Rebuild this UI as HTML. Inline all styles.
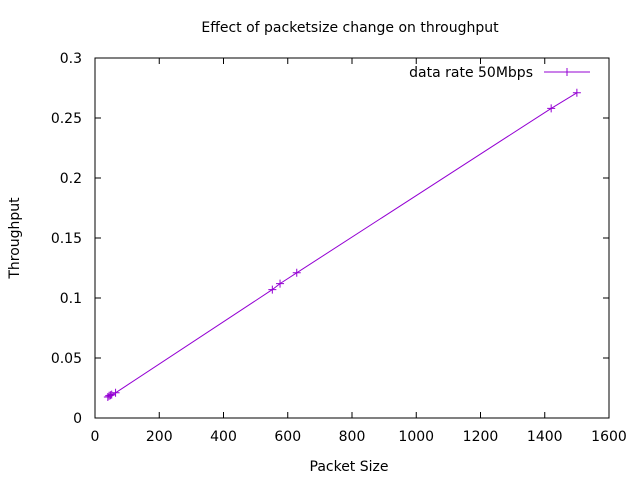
<!DOCTYPE html>
<html><head><meta charset="utf-8"><style>body{margin:0;background:#fff}svg{font-family:"DejaVu Sans","Liberation Sans",sans-serif}</style></head>
<body>
<svg id="c" width="640" height="480" xmlns="http://www.w3.org/2000/svg"></svg>
<script>
const xTicks=[0,200,400,600,800,1000,1200,1400,1600];
const yTicks=[0,0.05,0.1,0.15,0.2,0.25,0.3];
const yLabels=["0","0.05","0.1","0.15","0.2","0.25","0.3"];
const packetSizes=[40,44,48,52,64,552,576,628,1420,1500];
const throughput=[0.0175,0.0185,0.019,0.0195,0.021,0.107,0.112,0.121,0.258,0.271];
const L=95,R=609,T=58,B=418;
const sx=v=>L+(v-0)/1600*(R-L), sy=v=>B-v/0.3*(B-T);
const s=document.getElementById('c'),NS='http://www.w3.org/2000/svg';
function mk(t,a,txt){const e=document.createElementNS(NS,t);for(const k in a)e.setAttribute(k,a[k]);if(txt!=null)e.textContent=txt;s.appendChild(e);return e;}
let e;
e=mk('rect',{x:L,y:T,width:R-L,height:B-T,fill:'none',stroke:'#000','stroke-width':1});


xTicks.forEach(v=>{const x=sx(v);
 e=mk('path',{d:`M${x} ${B}v-6M${x} ${T}v6`,stroke:'#000'});
 
 
 e=mk('text',{x:x,y:B+23,'text-anchor':'middle','font-size':14},String(v));
 
 });
yTicks.forEach((v,i)=>{const y=sy(v);
 e=mk('path',{d:`M${L} ${y}h6M${R} ${y}h-6`,stroke:'#000'});
 
 
 e=mk('text',{x:L-13,y:y+5,'text-anchor':'end','font-size':14},yLabels[i]);
 
 });
e=mk('text',{x:350,y:32,'text-anchor':'middle','font-size':14},'Effect of packetsize change on throughput');


e=mk('text',{x:349,y:471,'text-anchor':'middle','font-size':14},'Packet Size');


e=mk('text',{x:19,y:238,'text-anchor':'middle','font-size':14,transform:'rotate(-90 19 238)'},'Throughput');


const c='#9400d3';
e=mk('polyline',{points:packetSizes.map((v,i)=>sx(v)+','+sy(throughput[i])).join(' '),fill:'none',stroke:c,'stroke-width':1});


packetSizes.forEach((v,i)=>{const x=sx(v),y=sy(throughput[i]);
 e=mk('path',{d:`M${x-4} ${y}h8M${x} ${y-4}v8`,stroke:c});
 
 });
e=mk('text',{x:533,y:77,'text-anchor':'end','font-size':14},'data rate 50Mbps');


e=mk('path',{d:'M544 72h46M567 68v8',stroke:c});


</script>
</body></html>
